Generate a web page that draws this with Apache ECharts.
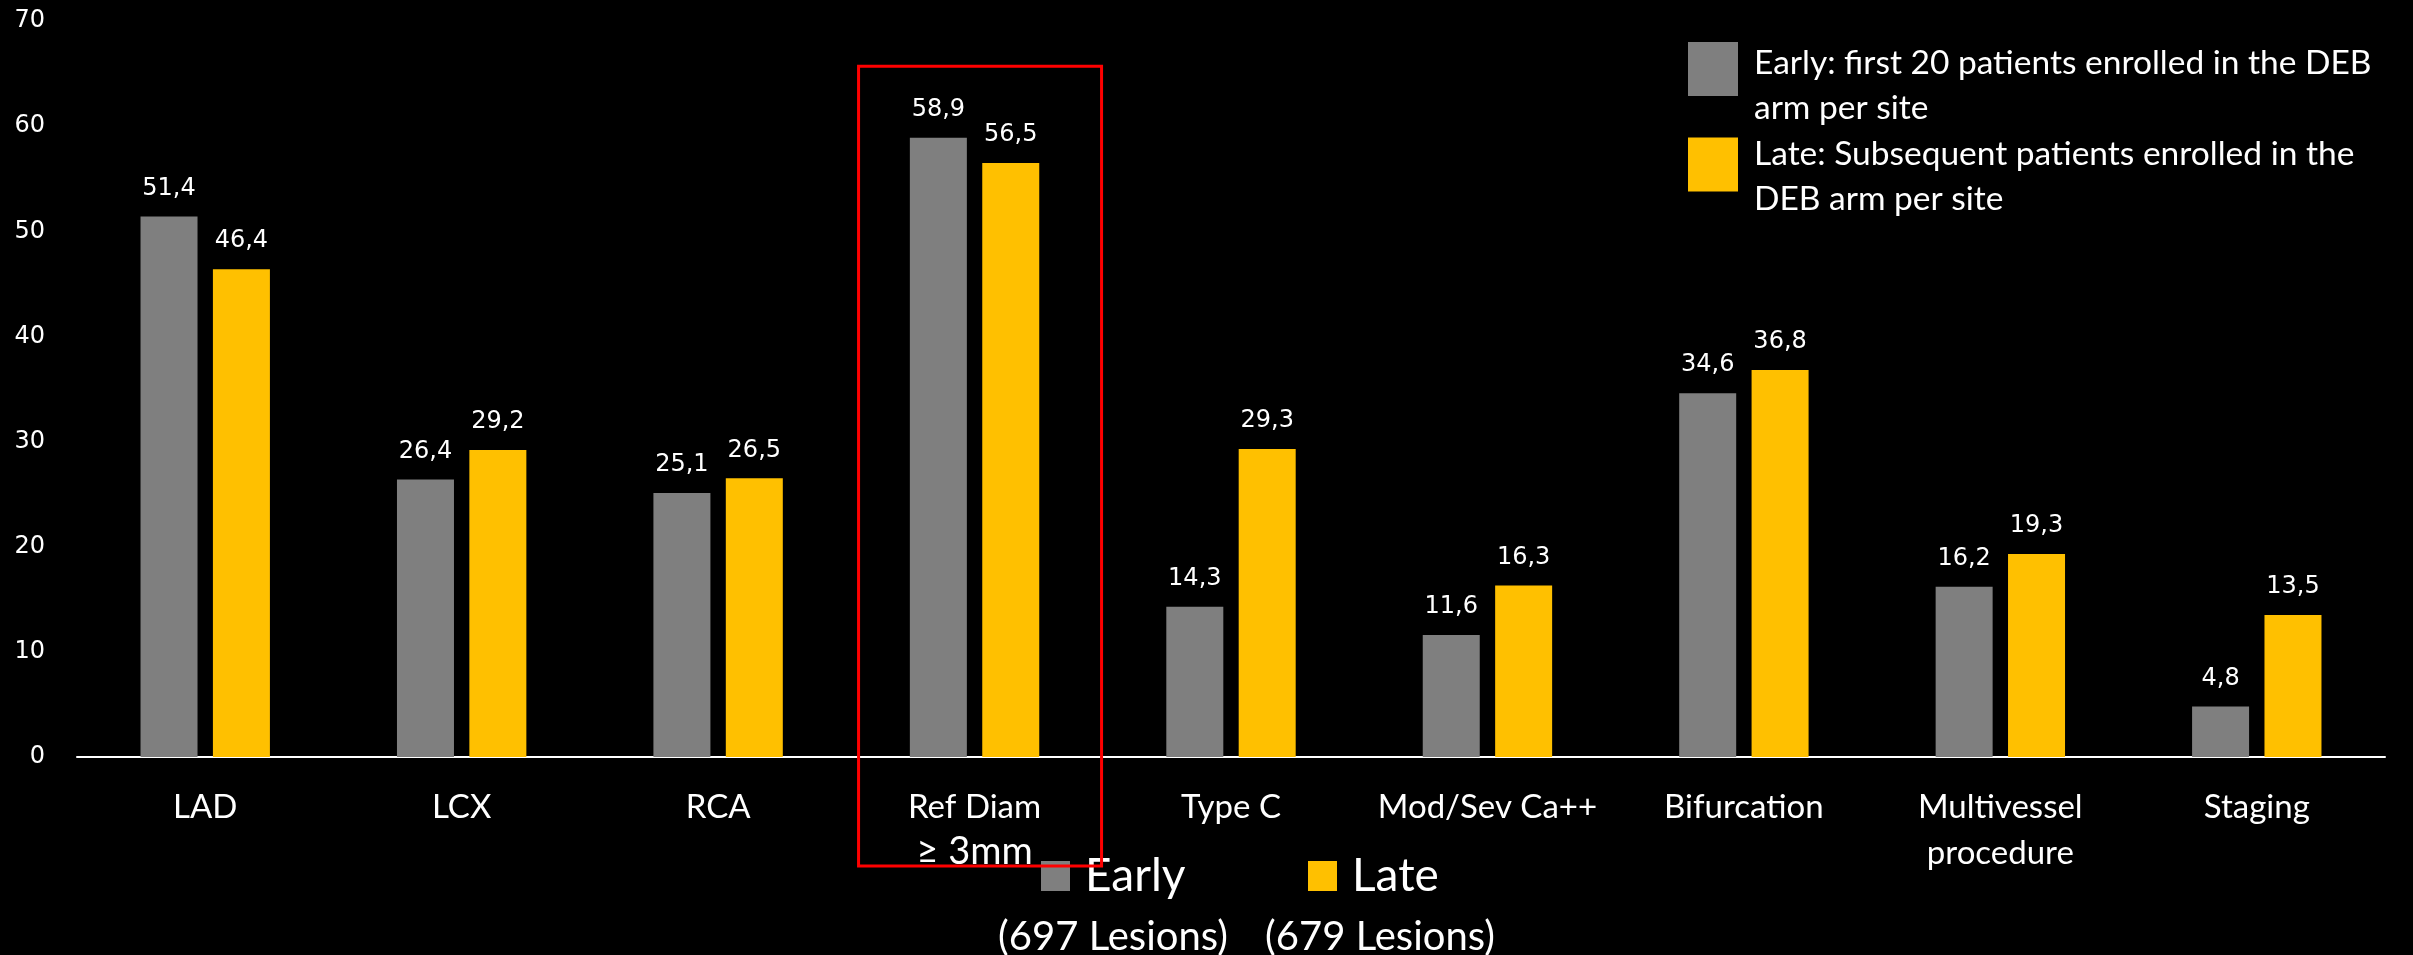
<!DOCTYPE html>
<html>
<head>
<meta charset="utf-8">
<title>Lesion characteristics: Early vs Late</title>
<script src="https://cdn.jsdelivr.net/npm/echarts@6/dist/echarts.min.js"></script>
<style>
  html, body { margin: 0; padding: 0; background: #000; }
  #chart { width: 2413px; height: 955px; }
</style>
</head>
<body>
<div id="chart"></div>
<script>
// Lesion / procedure characteristics (%), early vs late enrolment
const categories = ['LAD', 'LCX', 'RCA', 'Ref Diam\n≥ 3mm', 'Type C', 'Mod/Sev Ca++', 'Bifurcation', 'Multivessel\nprocedure', 'Staging'];
const earlyValues = [51.4, 26.4, 25.1, 58.9, 14.3, 11.6, 34.6, 16.2, 4.8];
const lateValues = [46.4, 29.2, 26.5, 56.5, 29.3, 16.3, 36.8, 19.3, 13.5];
const seriesNames = ['Early', 'Late'];
const seriesDescriptions = [
  'Early: first 20 patients enrolled in the DEB\narm per site',
  'Late: Subsequent patients enrolled in the\nDEB arm per site'
];
const lesionCounts = [697, 679];
const yMin = 0, yMax = 70, yStep = 10;

// highlighted category (red frame)
const highlightCategory = categories[3];
const highlightTopValue = 65.7;

const GRAY = '#7f7f7f';
const YELLOW = '#ffc000';
const SANS = 'Lato, "Open Sans", sans-serif';
const DIGITS = '"DejaVu Sans", Verdana, sans-serif';

const chart = echarts.init(document.getElementById('chart'), null, { renderer: 'canvas' });

const fmtComma = v => v.toFixed(1).replace('.', ',');

const labelOpt = {
  show: true,
  position: 'top',
  distance: 16,
  color: '#fff',
  fontFamily: DIGITS,
  fontSize: 24,
  formatter: p => fmtComma(p.value)
};

function shortLegend(idx, left) {
  return {
    data: [seriesNames[idx]],
    left: left, top: 848,
    padding: 0,
    selectedMode: false,
    icon: 'rect',
    itemWidth: 29, itemHeight: 30,
    textStyle: { color: '#fff', fontFamily: SANS, fontSize: 46, lineHeight: 56, padding: [0, 0, 0, 10] }
  };
}

chart.setOption({
  backgroundColor: '#000',
  animation: false,
  grid: { left: 77, right: 28, top: 21, bottom: 198, containLabel: false },
  legend: [
    // swatches of the descriptive key (top right); its wording is set beside them below
    {
      data: seriesNames,
      orient: 'vertical',
      left: 1688, top: 42,
      padding: 0,
      itemGap: 41.5,
      selectedMode: false,
      icon: 'rect',
      itemWidth: 50, itemHeight: 54,
      formatter: () => '',
      textStyle: { fontSize: 1, lineHeight: 1 }
    },
    shortLegend(0, 1041),
    shortLegend(1, 1308)
  ],
  xAxis: {
    type: 'category',
    data: categories,
    axisLine: { show: true, lineStyle: { color: '#fff', width: 2 } },
    axisTick: { show: false },
    axisLabel: {
      interval: 0,
      margin: 27,
      color: '#fff',
      fontFamily: SANS,
      fontSize: 33,
      lineHeight: 46,
      formatter: v => {
        if (v.indexOf('≥') >= 0) {
          const parts = v.split('\n');
          return '{a|' + parts[0] + '}\n{b|' + parts[1] + '}';
        }
        return v;
      },
      rich: {
        a: { color: '#fff', fontFamily: SANS, fontSize: 33, lineHeight: 46 },
        b: { color: '#fff', fontFamily: SANS, fontSize: 38, lineHeight: 44 }
      }
    }
  },
  yAxis: {
    type: 'value',
    min: yMin, max: yMax, interval: yStep,
    axisLine: { show: false },
    axisTick: { show: false },
    splitLine: { show: false },
    axisLabel: { color: '#fff', fontFamily: DIGITS, fontSize: 24, margin: 32 }
  },
  series: [
    { name: seriesNames[0], type: 'bar', data: earlyValues, barWidth: 57, barGap: '27%',
      itemStyle: { color: GRAY }, label: labelOpt },
    { name: seriesNames[1], type: 'bar', data: lateValues, barWidth: 57, barGap: '27%',
      itemStyle: { color: YELLOW }, label: labelOpt }
  ]
});

// red frame around the highlighted category, key descriptions and lesion counts
const cx = chart.convertToPixel({ xAxisIndex: 0 }, highlightCategory);
const topY = chart.convertToPixel({ yAxisIndex: 0 }, highlightTopValue);
const baseY = chart.convertToPixel({ yAxisIndex: 0 }, 0);

const descStyle = (text, y) => ({
  type: 'text',
  style: { x: 1754, y: y, text: text, fill: '#fff', font: '33.5px ' + SANS,
           lineHeight: 45, textAlign: 'left', textVerticalAlign: 'top' }
});

chart.setOption({
  graphic: [
    {
      type: 'rect',
      shape: { x: cx - 116, y: topY, width: 243, height: baseY + 109 - topY },
      style: { fill: 'none', stroke: '#ff0000', lineWidth: 3 },
      z: 100
    },
    descStyle(seriesDescriptions[0], 41),
    descStyle(seriesDescriptions[1], 132),
    {
      type: 'text',
      style: { x: 1113, y: 937, text: '(' + lesionCounts[0] + ' Lesions)', fill: '#fff',
               font: '40px ' + SANS, textAlign: 'center', textVerticalAlign: 'middle' }
    },
    {
      type: 'text',
      style: { x: 1380, y: 937, text: '(' + lesionCounts[1] + ' Lesions)', fill: '#fff',
               font: '40px ' + SANS, textAlign: 'center', textVerticalAlign: 'middle' }
    }
  ]
});
</script>
</body>
</html>
